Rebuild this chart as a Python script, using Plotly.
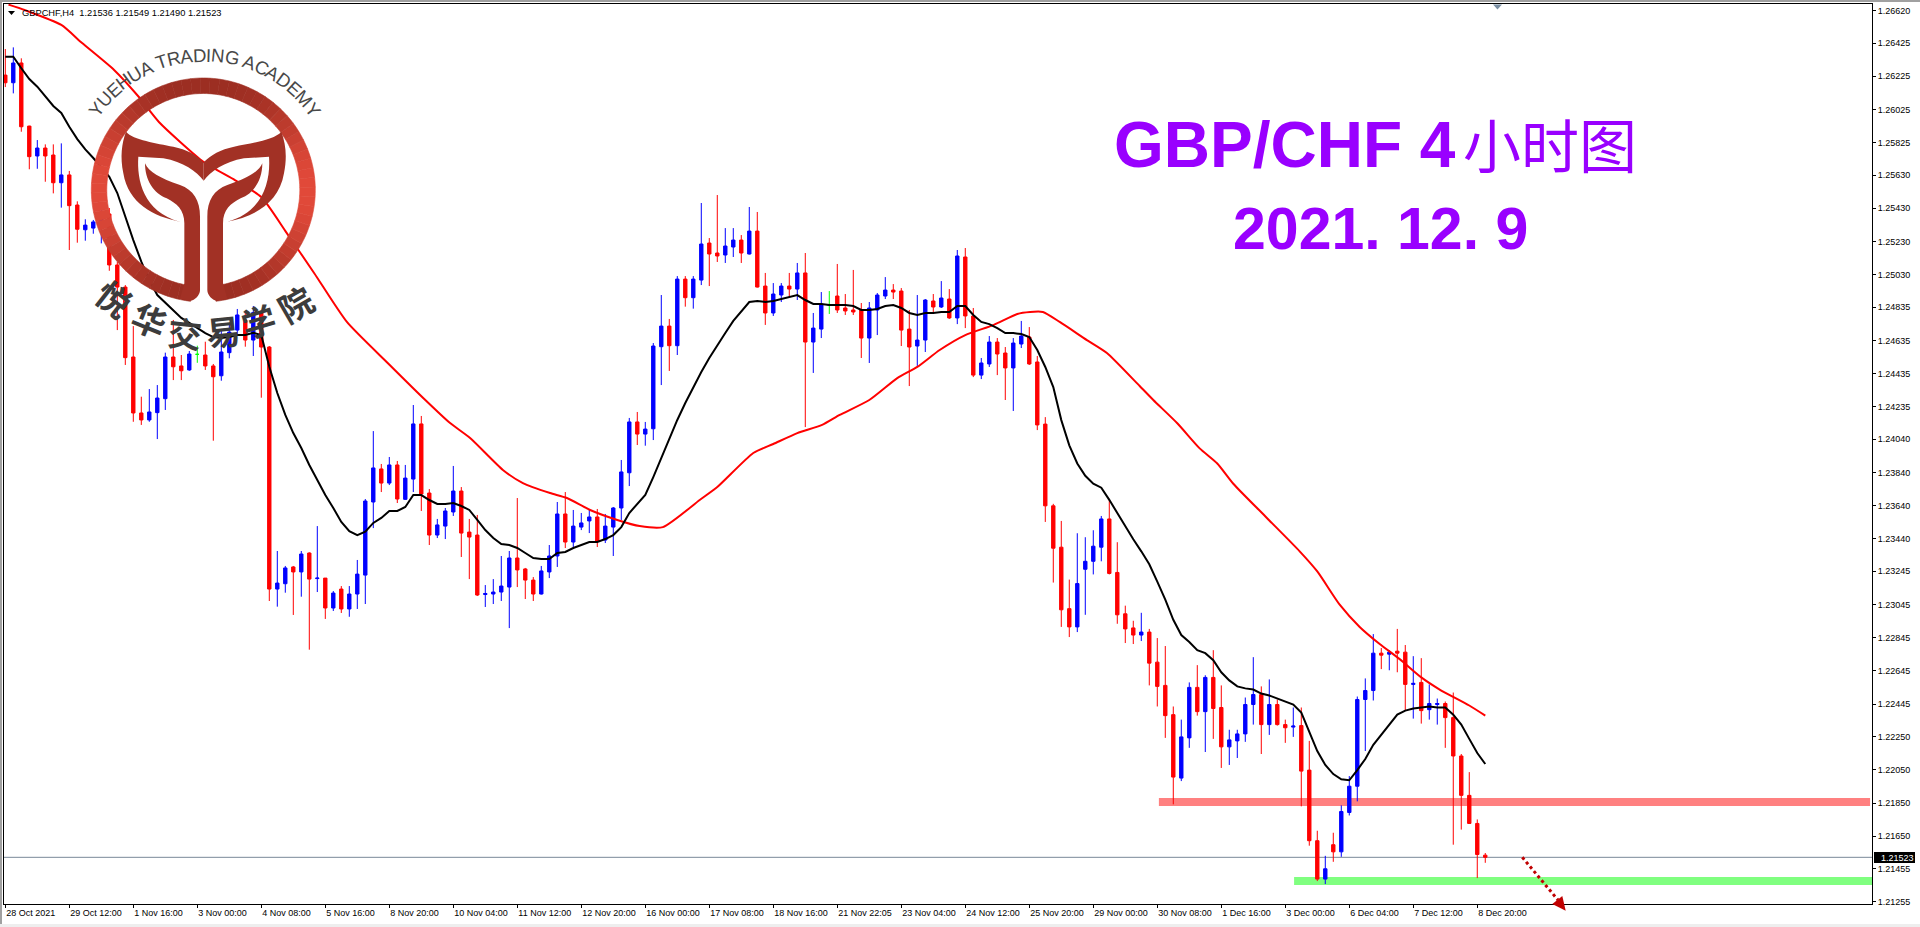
import math
import plotly.graph_objects as go

# ---- data (prices in 1e-5 points) -------------------------------------------
directions = """R B R R B R R B R R
B B B R R R R R B B
B R R B G R R B B B
R B R R B B R B R B
R B R B B B B R B R
B B R R B B B R R R
B B B B R R R B B B
R B B B R B B B B R
B B B R B R B B R R
B B R B R R B B R B
R B B G R R R R B B
B R R R B B R B R B
R R B B R R B B R R
R R R R B B B B R R
R R B R R R R B B R
B R R B B B B R B R
R B R R R B R B B B
B B R B R R B R B B
R R R R R R""".split()

highs = [126389,126399,126333,125927,125841,125815,125815,125821,125655,125472,
125364,125360,125450,125432,125107,124968,124721,124296,124342,124366,
124561,124758,124547,124571,124603,124627,124493,124697,124740,124824,
124806,124842,124818,124601,123367,123277,123277,123367,123359,123517,
123204,123126,123156,123156,123313,123680,124089,123891,123933,123909,
123885,124246,124180,123740,123560,123626,123879,123752,123560,123584,
123162,123198,123337,123367,123686,123265,123210,123277,123403,123662,
123722,123614,123596,123614,123620,123590,123632,123915,124168,124204,
124144,124619,124908,124764,125022,125022,125022,125462,125251,125510,
125311,125311,125269,125438,125408,125041,124980,124980,125041,125101,
125161,124800,124926,124932,125095,124914,125059,124860,124866,124920,
125016,124974,124950,124818,124908,124884,124914,124992,124944,125179,
125191,124830,124529,124661,124649,124595,124649,124752,124715,124541,
124173,123651,123548,123195,123474,123450,123492,123578,123681,123420,
123038,122947,122995,122898,122843,122795,122431,122352,122576,122680,
122619,122770,122558,122291,122291,122485,122728,122552,122594,122473,
122352,122425,122425,122224,121683,121532,121671,121836,122012,122491,
122600,122867,122783,122770,122898,122801,122734,122722,122564,122479,
122461,122515,122145,122036,121751,121549]

body_tops = [126232,126305,126305,125925,125793,125793,125751,125631,125631,125450,
125329,125348,125396,125396,125089,124956,124535,124198,124204,124288,
124535,124535,124481,124553,124551,124547,124481,124565,124685,124788,
124758,124802,124800,124595,123174,123265,123271,123349,123355,123204,
123204,123114,123138,123108,123228,123668,123867,123861,123885,123885,
123806,124132,124132,123716,123524,123608,123728,123728,123481,123463,
123111,123120,123156,123325,123325,123259,123192,123247,123337,123590,
123590,123517,123536,123572,123572,123517,123626,123843,124144,124144,
124101,124601,124721,124721,125004,125004,125004,125215,125221,125161,
125203,125239,125239,125293,125293,124962,124914,124962,124962,125041,
125041,124709,124854,124848,124902,124830,124818,124818,124830,124908,
124938,124938,124932,124703,124637,124878,124872,124890,124884,125143,
125137,124782,124499,124625,124625,124559,124619,124661,124655,124505,
124131,123639,123390,123020,123171,123305,123396,123560,123560,123238,
122989,122904,122879,122879,122698,122558,122382,122248,122546,122546,
122606,122606,122425,122230,122266,122443,122503,122503,122443,122443,
122322,122313,122316,122048,121623,121454,121599,121799,121951,122473,
122527,122752,122752,122758,122764,122758,122570,122576,122449,122449,
122449,122364,122133,121896,121727,121536]

body_bottoms = [126186,126186,125921,125741,125745,125745,125584,125584,125446,125304,
125301,125311,125348,125089,124956,124531,124198,124156,124156,124200,
124284,124476,124452,124457,124551,124481,124416,124422,124561,124697,
124637,124637,124595,123138,123138,123170,123241,123241,123198,123201,
123024,123024,123018,123018,123108,123222,123662,123776,123776,123680,
123678,123800,123710,123463,123463,123517,123602,123475,123451,123102,
123105,123108,123120,123150,123253,123192,123108,123108,123241,123337,
123421,123421,123511,123548,123427,123433,123511,123626,123838,124071,
124071,124103,124597,124603,124603,124892,124892,124998,125155,125143,
125149,125197,125161,125155,124956,124800,124800,124908,124944,124944,
124625,124625,124703,124848,124818,124812,124806,124649,124649,124818,
124902,124926,124697,124595,124601,124637,124836,124836,124770,124770,
124782,124426,124426,124493,124553,124469,124469,124613,124493,124126,
123639,123384,123013,122910,122910,123257,123305,123390,123232,122983,
122898,122861,122861,122692,122552,122376,122006,122000,122242,122400,
122400,122419,122188,122188,122224,122266,122443,122322,122322,122322,
122303,122307,122042,121623,121392,121392,121556,121556,121793,121951,
122473,122527,122740,122746,122752,122564,122564,122406,122412,122443,
122364,122133,121896,121727,121540,121523]

lows = [126160,126122,125891,125665,125668,125590,125520,125434,125179,125223,
125235,125277,125219,125054,124697,124487,124145,124126,124145,124041,
124216,124396,124396,124452,124500,124457,124031,124392,124527,124667,
124597,124541,124290,123066,123032,123116,122982,123092,122773,123120,
122958,123006,122994,122971,123018,123048,123505,123722,123764,123656,
123674,123722,123608,123403,123445,123439,123578,123331,123198,123096,
123030,123048,123066,122903,123150,123078,123066,123105,123204,123271,
123385,123391,123493,123475,123391,123415,123337,123554,123758,124005,
124001,124035,124366,124451,124547,124838,124826,124968,124962,125107,
125101,125137,125101,125152,124953,124728,124782,124866,124896,124878,
124113,124439,124649,124794,124800,124788,124788,124529,124499,124667,
124884,124884,124601,124360,124481,124565,124800,124830,124764,124733,
124709,124414,124402,124475,124426,124276,124210,124589,124487,124095,
123542,123177,122910,122849,122879,122983,123226,123305,123226,122929,
122813,122807,122825,122558,122431,122242,121842,121982,122182,122376,
122157,122236,122061,122079,122121,122218,122322,122145,122260,122316,
122212,122248,121830,121593,121380,121362,121496,121526,121775,121860,
122163,122467,122656,122649,122637,122406,122358,122328,122352,122322,
122182,121599,121690,121724,121398,121490]

ma_fast = [126343,126343,126273,126208,126162,126102,126046,126004,125921,125847,
125785,125733,125679,125620,125522,125379,125239,125109,124998,124908,
124860,124812,124770,124740,124709,124679,124655,124649,124655,124667,
124667,124681,124667,124476,124318,124186,124077,123987,123885,123794,
123704,123626,123542,123487,123463,123483,123536,123566,123608,123608,
123632,123704,123704,123674,123650,123650,123656,123638,123614,123554,
123493,123445,123409,123403,123385,123355,123325,123319,123319,123355,
123361,123385,123403,123421,123421,123439,123463,123511,123596,123650,
123704,123812,123927,124035,124156,124258,124354,124445,124529,124607,
124679,124752,124806,124866,124872,124866,124872,124884,124896,124908,
124878,124854,124854,124848,124848,124848,124842,124818,124818,124824,
124842,124848,124830,124800,124788,124800,124800,124806,124806,124842,
124842,124788,124746,124733,124709,124679,124679,124673,124655,124577,
124475,124354,124155,124003,123894,123820,123772,123748,123675,123596,
123511,123438,123365,123287,123183,123074,122953,122861,122819,122770,
122752,122710,122637,122588,122552,122540,122533,122509,122497,122479,
122461,122443,122394,122284,122163,122079,122024,121993,121987,122048,
122115,122200,122260,122322,122382,122406,122419,122425,122431,122425,
122425,122382,122322,122236,122151,122085]

ma_slow_bar = [0.4,2.4,7,9.6,13.6,16.7,19.2,24.8,28.7,32,35.1,38.6,42.7,47.8,52.5,55.6,58.1,62.2,64.7,68.1,
70.2,73.1,76.5,79.3,82.2,86.8,89,93.5,96,99,102.1,104.3,108,111.5,114,116.8,120,123.5,126.5,128.1,
129.7,131.8,135.2,137.7,141.8,143.5,146.5,149.3,151.5,153.5,157.7,161.8,164,166.8,169.3,171.8,174.3,177,179.3,183,185]
ma_slow = [126656,126624,126534,126425,126263,126100,125950,125709,125600,125498,125287,125041,124746,124499,124276,124137,124047,123855,123776,123716,
123686,123614,123554,123517,123511,123674,123752,123957,124011,124077,124126,124186,124276,124408,124475,124577,124667,124727,124794,124806,
124806,124746,124637,124559,124360,124276,124136,123985,123894,123772,123566,123365,123244,123044,122910,122807,122716,122606,122533,122437,122376]

x_tick_labels = ["28 Oct 2021","29 Oct 12:00","1 Nov 16:00","3 Nov 00:00","4 Nov 08:00","5 Nov 16:00",
"8 Nov 20:00","10 Nov 04:00","11 Nov 12:00","12 Nov 20:00","16 Nov 00:00","17 Nov 08:00","18 Nov 16:00",
"21 Nov 22:05","23 Nov 04:00","24 Nov 12:00","25 Nov 20:00","29 Nov 00:00","30 Nov 08:00","1 Dec 16:00",
"3 Dec 00:00","6 Dec 04:00","7 Dec 12:00","8 Dec 20:00"]
y_tick_labels = ["1.26620","1.26425","1.26225","1.26025","1.25825","1.25630","1.25430","1.25230","1.25030",
"1.24835","1.24635","1.24435","1.24235","1.24040","1.23840","1.23640","1.23440","1.23245","1.23045","1.22845",
"1.22645","1.22445","1.22250","1.22050","1.21850","1.21650","1.21455","1.21255"]

resistance_zone = (1.21880, 1.21832, 144.2)
support_zone = (1.21404, 1.21356, 161.1)
header = "GBPCHF,H4\u00a0\u00a01.21536 1.21549 1.21490 1.21523"

# ---- derive ------------------------------------------------------------------
S = 1e5
n = len(directions)
bars = list(range(n))
opens = [(t if d != "B" else b) / S for d, t, b in zip(directions, body_tops, body_bottoms)]
closes = [(b if d != "B" else t) / S for d, t, b in zip(directions, body_tops, body_bottoms)]
hi = [v / S for v in highs]
lo = [v / S for v in lows]

L, R, T, B = 4, 1872, 4, 904
def fx(p): return (p - L) / (R - L)
def fy(p): return (B - p) / (B - T)

fig = go.Figure()
BODY = dict(whiskerwidth=0, hoverinfo="skip", showlegend=False)
def candle(flag, color):
    idx = [i for i in bars if directions[i] == flag]
    g = lambda seq: [seq[i] for i in idx]
    inc = dict(line=dict(color=color, width=1), fillcolor=color)
    fig.add_trace(go.Candlestick(x=idx, open=g(opens), high=g(hi), low=g(lo), close=g(closes),
                                 increasing=inc, decreasing=inc, **BODY))
candle("R", "#ff0000")
candle("B", "#0000ff")
candle("G", "#00ff00")

fig.add_trace(go.Scatter(x=ma_slow_bar, y=[v / S for v in ma_slow], mode="lines",
                         line=dict(color="#ff0000", width=2, shape="spline", smoothing=0.6),
                         hoverinfo="skip", showlegend=False))
fig.add_trace(go.Scatter(x=bars, y=[v / S for v in ma_fast], mode="lines",
                         line=dict(color="#000000", width=2), hoverinfo="skip", showlegend=False))

shapes = []
annos = []
# chrome
for x0, y0, x1, y1, c in [(0, 0, 1920, 2, "#a0a0a0"), (0, 0, 2, 927, "#a0a0a0"), (0, 924, 1920, 927, "#eeeeee")]:
    shapes.append(dict(type="rect", xref="paper", yref="paper", x0=fx(x0), x1=fx(x1), y0=fy(y0), y1=fy(y1),
                       fillcolor=c, line=dict(width=0), layer="above"))
# price line and zones
shapes.append(dict(type="line", xref="paper", yref="y", x0=0, x1=1, y0=closes[-1], y1=closes[-1],
                   line=dict(color="#7a8898", width=1), layer="below"))
for (y0, y1, x0), c in [(resistance_zone, "#ff8080"), (support_zone, "#80ff80")]:
    shapes.append(dict(type="rect", xref="x", yref="y", x0=x0, x1=233.1 if c == "#ff8080" else 233.34, y0=y0, y1=y1,
                       fillcolor=c, line=dict(width=0), layer="below"))
# dotted arrow
shapes.append(dict(type="line", xref="paper", yref="paper", x0=fx(1522.3), y0=fy(857.3), x1=fx(1558), y1=fy(900),
                   line=dict(color="#c00000", width=3, dash="dot"), layer="above"))
def poly(pts):
    return "M " + " L ".join(f"{fx(x):.5f} {fy(y):.5f}" for x, y in pts) + " Z"
shapes.append(dict(type="path", xref="paper", yref="paper", path=poly([(1565.7, 910.7), (1552.3, 904), (1562.3, 896)]),
                   fillcolor="#c00000", line=dict(width=0), layer="above"))
# header marker and shift marker
shapes.append(dict(type="path", xref="paper", yref="paper", path=poly([(8, 11), (15, 11), (11.5, 15)]),
                   fillcolor="#000000", line=dict(width=0), layer="above"))
shapes.append(dict(type="path", xref="paper", yref="paper", path=poly([(1493, 4.5), (1502, 4.5), (1497.5, 9.5)]),
                   fillcolor="#7a8fa3", line=dict(width=0), layer="above"))
# price tag
shapes.append(dict(type="rect", xref="paper", yref="paper", x0=fx(1874), x1=fx(1915), y0=fy(852), y1=fy(863),
                   fillcolor="#000000", line=dict(width=0), layer="above"))
annos.append(dict(xref="paper", yref="paper", x=fx(1879), y=fy(857.5), text=f"{closes[-1]:.5f}",
                  showarrow=False, xanchor="left", yanchor="middle", font=dict(family="Liberation Sans", size=9, color="#ffffff")))
annos.append(dict(xref="paper", yref="paper", x=fx(20), y=fy(12.7), text=header, showarrow=False, xanchor="left",
                  yanchor="middle", font=dict(family="Liberation Sans", size=9.3, color="#000000")))

# logo ring (horizontal colour shading approximated by sectors)
cx, cy, Ro, Ri = 203.3, 190.0, 112.0, 96.5
def mix(t):
    a, b = (0x9c, 0x2e, 0x22), (0xe2, 0x4a, 0x3a)
    return "#%02x%02x%02x" % tuple(int(p + (q - p) * t) for p, q in zip(a, b))
def pt(r, deg):
    a = math.radians(deg)
    return (cx + r * math.sin(a), cy + r * math.cos(a))
deg = 6.5
while deg < 353.5:
    d2 = min(deg + 5, 353.5)
    mid = (deg + d2) / 2
    pts = [pt(Ro, deg + i * (d2 - deg) / 3) for i in range(4)] + [pt(Ri, d2 - i * (d2 - deg) / 3) for i in range(4)]
    t = abs(math.sin(math.radians(mid))) ** 3
    c = mix(t)
    shapes.append(dict(type="path", xref="paper", yref="paper", path=poly(pts), fillcolor=c,
                       line=dict(color=c, width=0.6), layer="above"))
    deg = d2

def zpath(spec, mirror=False):
    out, nums = [], []
    for tok in spec.split():
        if tok.isalpha():
            out.append(tok)
        else:
            nums.append(float(tok))
            if len(nums) == 2:
                zx = 1222 - nums[0] if mirror else nums[0]
                out.append(f"{fx(zx / 3):.5f} {fy(30 + nums[1] / 3):.5f}")
                nums = []
    return " ".join(out)

crescent = ("M 378 305 C 400 330 470 340 520 350 C 560 358 590 375 611 397 L 611 452 "
            "C 590 425 550 395 490 385 L 415 380 C 410 450 430 545 540 575 "
            "C 460 560 385 520 370 430 C 360 380 365 340 378 305 Z")
stem = ("M 435 400 C 445 425 480 445 540 465 C 580 480 600 510 600 560 L 600 780 "
        "C 600 795 585 812 570 812 L 540 806 L 553 760 L 553 580 C 553 540 530 520 500 505 "
        "C 460 490 435 450 435 400 Z")
for spec in (crescent, stem):
    for m in (False, True):
        shapes.append(dict(type="path", xref="paper", yref="paper", path=zpath(spec, m),
                           fillcolor="#a23125", line=dict(width=0), layer="above"))

# logo lettering
arc_text = "YUEHUA TRADING ACADEMY"
em = dict(Y=.667, U=.722, E=.667, H=.722, A=.667, T=.611, R=.722, D=.722, I=.278, N=.722, G=.778, C=.722, M=.833)
em[" "] = .278
size, radius = 18.6, 135.0
total = sum(em[c] for c in arc_text) * size
pos = -total / 2
for ch in arc_text:
    w = em[ch] * size
    if ch != " ":
        th = (pos + w / 2) / radius
        annos.append(dict(xref="paper", yref="paper", x=fx(204.5 + radius * math.sin(th)),
                          y=fy(190 - radius * math.cos(th)), text=ch, textangle=math.degrees(th), showarrow=False,
                          xanchor="center", yanchor="middle",
                          font=dict(family="Liberation Sans", size=size, color="#484848")))
    pos += w
for ch, x, y, a in [("悦", 115, 298, 38), ("华", 150, 319, 22), ("交", 185, 332, 6),
                    ("易", 223, 330, -6), ("学", 258, 320, -17), ("院", 295, 303, -30)]:
    annos.append(dict(xref="paper", yref="paper", x=fx(x), y=fy(y), text=f"<b>{ch}</b>", textangle=a, showarrow=False,
                      xanchor="center", yanchor="middle",
                      font=dict(family="Noto Sans CJK SC", size=34, color="#3c3c3c")))

# titles
PURPLE = "#9900ff"
annos.append(dict(xref="paper", yref="paper", x=fx(1112), y=fy(145), text="<b>GBP/CHF 4</b>", showarrow=False,
                  xanchor="left", yanchor="middle", font=dict(family="Liberation Sans", size=64, color=PURPLE)))
annos.append(dict(xref="paper", yref="paper", x=fx(1550), y=fy(143), text="小时图", showarrow=False,
                  xanchor="center", yanchor="middle", font=dict(family="Noto Sans CJK SC", size=58, color=PURPLE)))
annos.append(dict(xref="paper", yref="paper", x=fx(1231), y=fy(229), text="<b>2021. 12. 9</b>", showarrow=False,
                  xanchor="left", yanchor="middle", font=dict(family="Liberation Sans", size=59, color=PURPLE)))

tick_font = dict(family="Liberation Sans", size=9, color="#000000")
fig.update_layout(
    width=1920, height=927, autosize=False,
    margin=dict(l=L, r=1920 - R, t=T, b=927 - B, pad=0),
    paper_bgcolor="#ffffff", plot_bgcolor="#ffffff",
    boxmode="overlay", boxgap=0.4,
    showlegend=False, shapes=shapes, annotations=annos,
    xaxis=dict(type="linear", range=[-0.1625, 233.34], rangeslider=dict(visible=False),
               tickmode="array", tickvals=[8 * i for i in range(len(x_tick_labels))], ticktext=x_tick_labels,
               ticks="outside", ticklen=3, tickcolor="#000000", tickwidth=1,
               showgrid=False, zeroline=False, showline=True, linecolor="#000000", linewidth=1, mirror=True,
               tickfont=tick_font, ticklabelposition="outside right", tickangle=0),
    yaxis=dict(side="right", range=[1.21242, 1.26660],
               tickmode="array", tickvals=[float(s) for s in y_tick_labels], ticktext=y_tick_labels,
               ticks="outside", ticklen=3, tickcolor="#000000", tickwidth=1,
               showgrid=False, zeroline=False, showline=True, linecolor="#000000", linewidth=1, mirror=True,
               tickfont=tick_font),
)
fig.write_html("out.html", config=dict(displayModeBar=False),
               post_script="document.body.style.margin='0';document.body.style.overflow='hidden';")
